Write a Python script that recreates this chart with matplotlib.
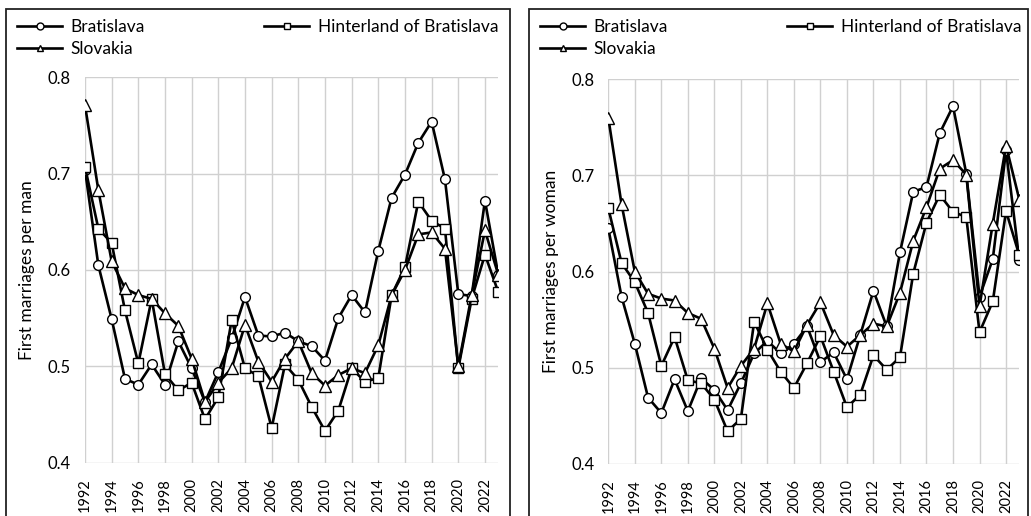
import matplotlib
matplotlib.use("Agg")
import matplotlib.pyplot as plt
from matplotlib.patches import Rectangle
from matplotlib.lines import Line2D

plt.rcParams['font.family'] = ['Lato', 'DejaVu Sans']

years = list(range(1992, 2024))

# Men
men_bratislava = [0.704, 0.605, 0.549, 0.487, 0.481, 0.502, 0.481, 0.526, 0.498, 0.463,
                  0.494, 0.529, 0.572, 0.532, 0.531, 0.535, 0.526, 0.521, 0.506, 0.550,
                  0.574, 0.556, 0.620, 0.675, 0.699, 0.732, 0.754, 0.694, 0.575, 0.573,
                  0.672, 0.595]
men_hinterland = [0.707, 0.643, 0.628, 0.558, 0.503, 0.570, 0.492, 0.475, 0.483, 0.445,
                  0.468, 0.548, 0.498, 0.490, 0.436, 0.502, 0.486, 0.458, 0.433, 0.454,
                  0.498, 0.484, 0.488, 0.574, 0.603, 0.671, 0.651, 0.643, 0.498, 0.570,
                  0.616, 0.577]
men_slovakia = [0.771, 0.683, 0.609, 0.581, 0.574, 0.570, 0.555, 0.542, 0.508, 0.463,
                0.483, 0.498, 0.543, 0.505, 0.484, 0.508, 0.526, 0.493, 0.480, 0.491,
                0.498, 0.493, 0.522, 0.574, 0.600, 0.637, 0.639, 0.622, 0.500, 0.574,
                0.641, 0.595]

# Women
women_bratislava = [0.645, 0.574, 0.525, 0.469, 0.453, 0.488, 0.455, 0.489, 0.477, 0.456,
                    0.484, 0.515, 0.528, 0.515, 0.525, 0.543, 0.506, 0.516, 0.488, 0.534,
                    0.580, 0.543, 0.620, 0.683, 0.688, 0.744, 0.772, 0.702, 0.574, 0.613,
                    0.726, 0.612]
women_hinterland = [0.666, 0.609, 0.589, 0.557, 0.502, 0.532, 0.487, 0.484, 0.467, 0.434,
                    0.447, 0.548, 0.519, 0.496, 0.479, 0.505, 0.533, 0.496, 0.459, 0.472,
                    0.513, 0.498, 0.511, 0.598, 0.651, 0.680, 0.662, 0.657, 0.537, 0.569,
                    0.663, 0.617]
women_slovakia = [0.760, 0.670, 0.600, 0.577, 0.572, 0.570, 0.557, 0.551, 0.520, 0.479,
                  0.502, 0.520, 0.567, 0.525, 0.517, 0.545, 0.568, 0.534, 0.522, 0.534,
                  0.546, 0.543, 0.578, 0.632, 0.667, 0.707, 0.716, 0.701, 0.564, 0.650,
                  0.731, 0.675]

series_names = ["Bratislava", "Hinterland of Bratislava", "Slovakia"]
markers = ["o", "s", "^"]
yticks = [0.4, 0.5, 0.6, 0.7, 0.8]
xticks = list(range(1992, 2023, 2))

W, H = 1031, 516
fig = plt.figure(figsize=(W / 100, H / 100), dpi=100)

panels = [
    dict(rect=[85 / W, 1 - 462.7 / H, (498.3 - 85) / W, (462.7 - 77.3) / H],
         data=[men_bratislava, men_hinterland, men_slovakia],
         ylabel="First marriages per man", box=(6, 510), lx=17),
    dict(rect=[608.3 / W, 1 - 464 / H, (1019.3 - 608.3) / W, (464 - 79.3) / H],
         data=[women_bratislava, women_hinterland, women_slovakia],
         ylabel="First marriages per woman", box=(529, 1028), lx=540),
]

for p in panels:
    ax = fig.add_axes(p["rect"])
    for vals, m in zip(p["data"], markers):
        ax.plot(years, vals, color="black", lw=1.9, marker=m, markersize=7 if m != "^" else 8,
                markerfacecolor="white", markeredgecolor="black", markeredgewidth=1.0,
                zorder=3)
    ax.set_xlim(1992, 2023)
    ax.set_ylim(0.4, 0.8)
    ax.set_yticks(yticks)
    ax.set_yticklabels([f"{v:.1f}" for v in yticks], fontsize=12)
    ax.set_xticks(xticks)
    ax.set_xticklabels([str(x) for x in xticks], rotation=90, fontsize=10.5)
    ax.tick_params(axis="y", length=0, pad=10)
    ax.tick_params(axis="x", length=0, pad=11)
    ax.grid(True, color="#d0d0d0", lw=1.0)
    ax.set_axisbelow(True)
    for s in ax.spines.values():
        s.set_visible(False)
    ax.set_ylabel(p["ylabel"], fontsize=12.5, labelpad=9)

    x0, x1 = p["box"]
    fig.add_artist(Rectangle((x0 / W, -0.1), (x1 - x0) / W, 1.1 - 9 / H,
                             transform=fig.transFigure, fill=False,
                             edgecolor="#222222", lw=1.3))

    handles = [Line2D([], [], color="black", lw=1.9, marker=m, markersize=5,
                      markerfacecolor="white", markeredgecolor="black", markeredgewidth=1.0)
               for m in markers]
    order = [0, 2, 1]
    fig.legend([handles[i] for i in order], [series_names[i] for i in order],
               loc="upper left", bbox_to_anchor=(p["lx"] / W, 1 - 19 / H),
               ncol=2, frameon=False, fontsize=12.5, handlelength=2.6,
               handletextpad=0.5, columnspacing=6.85, labelspacing=0.35,
               borderpad=0, borderaxespad=0)

fig.savefig("out.png", dpi=100)
